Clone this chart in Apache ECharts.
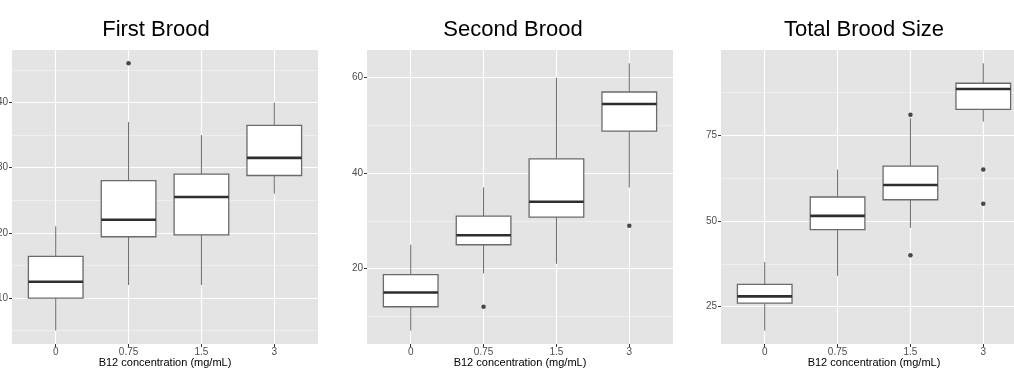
<!DOCTYPE html>
<html>
<head>
<meta charset="utf-8">
<script src="https://cdn.jsdelivr.net/npm/echarts@6/dist/echarts.min.js"></script>
<style>
  html, body { margin: 0; padding: 0; background: #fff; }
  #chart { width: 1014px; height: 369px; }
</style>
</head>
<body>
<div id="chart"></div>
<script>
// categories (B12 concentration, mg/mL)
const catLabels = ['0', '0.75', '1.5', '3']

// box stats per category: [low whisker, Q1, median, Q3, high whisker]
const firstBox = [[5, 10, 12.5, 16.4, 21], [12, 19.4, 22, 28, 37], [12, 19.7, 25.5, 29, 35], [26, 28.8, 31.5, 36.5, 40]]
const secondBox = [[7, 12, 15, 18.75, 25], [19, 25, 27, 31, 37], [21, 30.8, 34, 43, 60], [37, 48.8, 54.5, 57, 63]]
const totalBox = [[18, 26, 28, 31.5, 38], [34, 47.5, 51.5, 57, 65], [48, 56.2, 60.5, 66, 80], [79, 82.6, 88.5, 90.2, 96]]

// outliers: [category position (1-based), value]
const firstOut = [[2, 46]]
const secondOut = [[2, 12], [4, 29]]
const totalOut = [[3, 81], [3, 40], [4, 65], [4, 55]]

// y axis breaks
const firstTicks = [10, 20, 30, 40]
const firstMinor = [5, 15, 25, 35, 45]
const secondTicks = [20, 40, 60]
const secondMinor = [10, 30, 50]
const totalTicks = [25, 50, 75]
const totalMinor = [37.5, 62.5, 87.5]

const titles = ['First Brood', 'Second Brood', 'Total Brood Size']
const xName = 'B12 concentration (mg/mL)'

const FONT = 'Liberation Sans, Arial, sans-serif'
const catPos = catLabels.map((_, i) => i + 1)

const panels = [
  { box: firstBox, out: firstOut, ticks: firstTicks, minor: firstMinor, left: 12, titleX: 151, range: [2.95, 48.05] },
  { box: secondBox, out: secondOut, ticks: secondTicks, minor: secondMinor, left: 367, titleX: 508, range: [4.2, 65.8] },
  { box: totalBox, out: totalOut, ticks: totalTicks, minor: totalMinor, left: 721, titleX: 859, range: [14.1, 99.9] }
]

// ggplot-style box: whiskers without caps, thick median
const renderBox = (params, api) => {
  const x = api.value(0)
  const lo = api.coord([x, api.value(1)])
  const q1 = api.coord([x, api.value(2)])
  const med = api.coord([x, api.value(3)])
  const q3 = api.coord([x, api.value(4)])
  const hi = api.coord([x, api.value(5)])
  const w = api.size([0.75, 0])[0]
  const cx = lo[0]
  const lineStyle = { stroke: '#6a6a6a', lineWidth: 1 }
  return {
    type: 'group',
    children: [
      { type: 'line', shape: { x1: cx, y1: hi[1], x2: cx, y2: q3[1] }, style: lineStyle },
      { type: 'line', shape: { x1: cx, y1: q1[1], x2: cx, y2: lo[1] }, style: lineStyle },
      {
        type: 'rect',
        shape: { x: cx - w / 2, y: q3[1], width: w, height: q1[1] - q3[1] },
        style: { fill: '#fff', stroke: '#6a6a6a', lineWidth: 1.3 }
      },
      {
        type: 'line',
        shape: { x1: cx - w / 2, y1: med[1], x2: cx + w / 2, y2: med[1] },
        style: { stroke: '#2e2e2e', lineWidth: 2.6 }
      }
    ]
  }
}

const grid = []
const xAxis = []
const yAxis = []
const series = []
const title = []

panels.forEach((p, i) => {
  grid.push({
    left: p.left, top: 50, width: 306, height: 294,
    outerBoundsMode: 'none', containLabel: false,
    show: true, backgroundColor: '#e4e4e4', borderWidth: 0
  })
  title.push({
    text: titles[i], left: p.titleX, top: 14, textAlign: 'center',
    textStyle: { fontFamily: FONT, fontSize: 22, fontWeight: 'normal', color: '#000' }
  })
  xAxis.push({
    type: 'value', gridIndex: i, min: 0.4, max: 4.6,
    name: xName, nameLocation: 'middle', nameGap: 13, nameMoveOverlap: false,
    nameTextStyle: { fontFamily: FONT, fontSize: 11, color: '#000' },
    axisLine: { show: false },
    axisTick: { show: true, length: 3, customValues: catPos, lineStyle: { color: '#333', width: 1 } },
    axisLabel: {
      customValues: catPos, margin: 3, fontFamily: FONT, fontSize: 10, color: '#4d4d4d',
      formatter: (v) => catLabels[Math.round(v) - 1]
    },
    splitLine: { show: true, lineStyle: { color: '#fff', width: 1.2 } }
  })
  // major y axis
  yAxis.push({
    type: 'value', gridIndex: i, min: p.range[0], max: p.range[1], position: 'left',
    axisLine: { show: false },
    axisTick: { show: true, length: 3, customValues: p.ticks, lineStyle: { color: '#333', width: 1 } },
    axisLabel: { customValues: p.ticks, margin: 4, fontFamily: FONT, fontSize: 10, color: '#4d4d4d' },
    splitLine: { show: true, lineStyle: { color: '#fff', width: 1.2 } }
  })
  // minor gridlines only
  yAxis.push({
    type: 'value', gridIndex: i, min: p.range[0], max: p.range[1], position: 'right',
    axisLine: { show: false },
    axisTick: { show: false, customValues: p.minor },
    axisLabel: { show: false, customValues: p.minor },
    splitLine: { show: true, lineStyle: { color: '#f1f1f1', width: 0.8 } }
  })
  series.push({
    type: 'custom', xAxisIndex: i, yAxisIndex: 2 * i,
    renderItem: renderBox,
    encode: { x: 0, y: [1, 2, 3, 4, 5] },
    data: p.box.map((b, k) => [catPos[k], ...b]),
    z: 3, silent: true
  })
  series.push({
    type: 'scatter', xAxisIndex: i, yAxisIndex: 2 * i,
    data: p.out, symbolSize: 4.5,
    itemStyle: { color: '#1e1e1e' },
    z: 4, silent: true
  })
})

const chart = echarts.init(document.getElementById('chart'), null, { renderer: 'canvas' })
chart.setOption({
  animation: false,
  backgroundColor: '#fff',
  title,
  grid,
  xAxis,
  yAxis,
  series
})
</script>
</body>
</html>
